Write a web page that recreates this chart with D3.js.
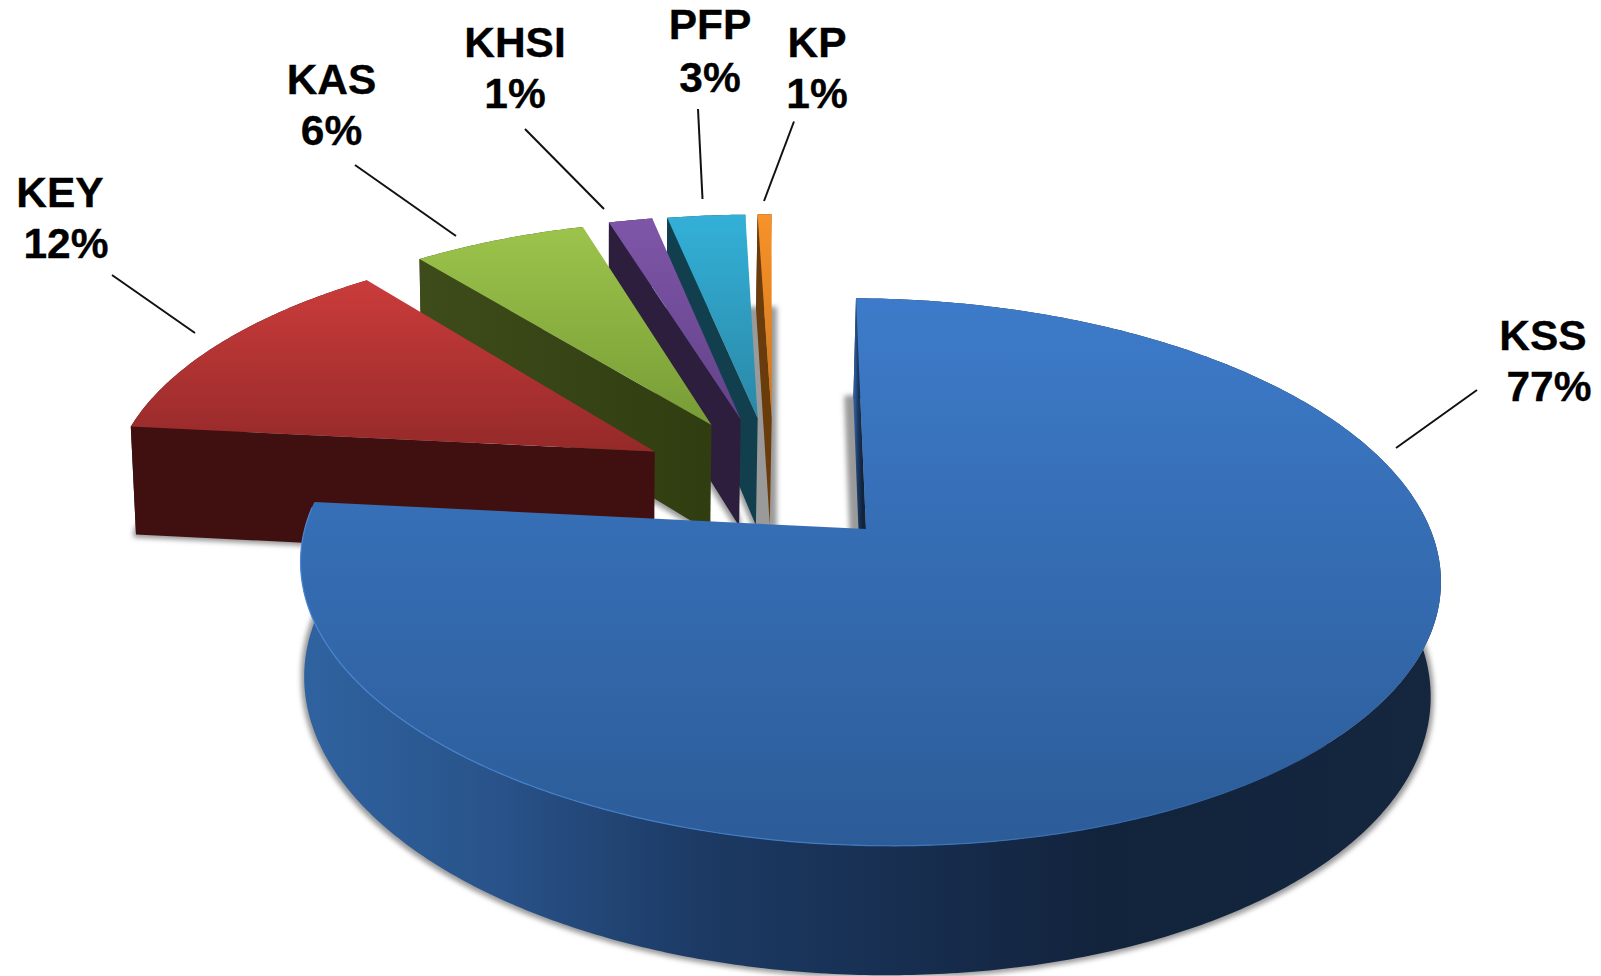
<!DOCTYPE html>
<html><head><meta charset="utf-8">
<script src="https://cdn.jsdelivr.net/npm/d3@7/dist/d3.min.js"></script>
<style>html,body{margin:0;padding:0;background:#fff;overflow:hidden}svg{display:block}
text{font-family:"Liberation Sans",Arial,sans-serif;font-weight:700;font-size:42.5px;fill:#000;stroke:#000;stroke-width:.3px;text-anchor:middle}</style>
</head><body><svg id="c" width="1601" height="976"></svg>
<script>
// ---- data ----
const categories = ["KSS","KEY","KAS","KHSI","PFP","KP"];
const sliceValues = [76.48,12.7,6.07,1.53,2.72,0.485];   // wedge sizes as drawn
const percentLabels = [77,12,6,1,3,1];                   // printed percentages
// ---- style ----
const topColors  = [["#3d7bca","#2c5c98"],["#ca3c3b","#952929"],["#9cc44b","#789c36"],["#7e56a8","#64428a"],["#33b0d8","#2a88a6"],["#f8922a","#d0761a"]];
const kssWallStops = [[0,"#2f63a0"],[.17,"#29538a"],[.35,"#1c3a64"],[.53,"#172e50"],[.7,"#12233c"],[1,"#14273f"]];
const wallColors = [null,["#401010","#401010"],["#3e4b1a","#303d10"],["#2d1e3e","#2d1e3e"],["#123f4d","#123f4d"],["#6a3c0c","#6a3c0c"]];
// ---- explosion of each wedge on the pie plane (in radii) ----
const explodeU = [0,-0.3867,-0.2837,-0.2288,-0.1966,-0.170];
const explodeV = [0,-0.2985,-0.4107,-0.4362,-0.4405,-0.443];
const rimShiftU = [0.005,0.0057,0,0,0,0];
// ---- label placement ----
const labelX  = [[1543,1549],[60,66],[331.5,331.5],[515,515],[710,710],[817,817]];
const labelY  = [[350,401],[207,258],[94,145],[57,108],[39,92],[57,108]];
const leaders = [[1477,390,1396,448],[112,275,195,333],[355,165,456,236],[525,129,604,209],[698,109,702.5,199],[794,121.5,764,201]];
// ---- camera ----
const cam = {cx:866,cy:529,a:563,b:11.6,c:4,d:267,k:0.157,m:0.012,px:-3.2,T:114.5,start:-0.005,end:2*Math.PI-0.006};
function project(u,v,z){
  const w = 1 - cam.k*v + cam.m*z;
  return [cam.cx + (cam.a*u + cam.b*v + cam.px*z)/w, cam.cy + (cam.c*u + cam.d*v + cam.T*z)/w];
}
const svg = d3.select("#c"), defs = svg.append("defs");
const line = d3.line();
const pie = d3.pie().sort(null).startAngle(cam.start).endAngle(cam.end)(sliceValues);

function rim(i,z,a0,a1){
  const n = Math.max(2,Math.ceil((a1-a0)/0.01));
  return d3.range(n+1).map(j=>{
    const t = a0+(a1-a0)*j/n;
    return project(explodeU[i]+rimShiftU[i]+Math.sin(t), explodeV[i]-Math.cos(t), z);
  });
}
const apex = (i,z)=>project(explodeU[i],explodeV[i],z);
function grad(id,stops,horizontal){
  const g = defs.append("linearGradient").attr("id",id).attr("x1",0).attr("y1",0)
    .attr("x2",horizontal?1:0).attr("y2",horizontal?0:1);
  stops.forEach(s=>g.append("stop").attr("offset",s[0]).attr("stop-color",s[1]));
}
const f = defs.append("filter").attr("id","sh").attr("filterUnits","userSpaceOnUse")
  .attr("x",0).attr("y",0).attr("width",1601).attr("height",976);
f.append("feMorphology").attr("operator","dilate").attr("radius",3);
f.append("feGaussianBlur").attr("stdDeviation",2.5);

categories.forEach((c,i)=>{
  grad("t"+i,[[0,topColors[i][0]],[1,topColors[i][1]]],false);
  grad("w"+i,i===0?kssWallStops:[[0,wallColors[i][0]],[1,wallColors[i][1]]],true);
});
grad("hl",[[0,"#4a86d4"],[.6,"#3f78c0"],[1,"#2c5c98"]],true);

// shadows first
const shadows = svg.append("g").attr("filter","url(#sh)").attr("fill","#9a9a9a");
pie.forEach((p,i)=>{
  shadows.append("path").attr("d",line([apex(i,1),...rim(i,1,p.startAngle,p.endAngle)])+"Z");
});
// the gap behind the last wedge is in its shadow too, and the notch wall of the first wedge throws a band
{
  const n = pie.length-1;
  const gap = line([
    apex(n-1,1),apex(n,1),
    ...rim(n,1,pie[n].endAngle,pie[n].endAngle),
    ...rim(n-1,1,pie[n-1].endAngle,pie[n-1].endAngle)
  ])+"Z";
  shadows.append("path").attr("d",gap);
  shadows.append("path").attr("d",gap).attr("transform","translate(4,0)");
  shadows.append("path").attr("transform","translate(-6,0)")
    .attr("d",line([apex(0,1),...rim(0,1,pie[0].startAngle,pie[0].startAngle+0.03)])+"Z");
}
// wedges from the back to the front
d3.range(categories.length-1,-1,-1).forEach(i=>{
  const p = pie[i], g = svg.append("g");
  const top = rim(i,0,p.startAngle,p.endAngle), bot = rim(i,1,p.startAngle,p.endAngle);
  g.append("path").attr("fill",`url(#w${i})`)
    .attr("d",line([...top,...bot.slice().reverse()])+"Z");
  g.append("path").attr("fill",`url(#w${i})`)
    .attr("d",line([apex(i,0),top[0],bot[0],apex(i,1)])+"Z");
  g.append("path").attr("fill",`url(#t${i})`)
    .attr("d",line([apex(i,0),...top])+"Z");
  if(i===0) g.append("path").attr("fill","none").attr("stroke","url(#hl)").attr("stroke-width",1.2)
    .attr("d",line(rim(0,0,Math.PI*0.75,p.endAngle-0.02)));
});
// labels and leaders
categories.forEach((c,i)=>{
  svg.append("line").attr("x1",leaders[i][0]).attr("y1",leaders[i][1]).attr("x2",leaders[i][2]).attr("y2",leaders[i][3])
    .attr("stroke","#111").attr("stroke-width",2);
  svg.append("text").attr("x",labelX[i][0]).attr("y",labelY[i][0]).text(c);
  svg.append("text").attr("x",labelX[i][1]).attr("y",labelY[i][1]).text(percentLabels[i]+"%");
});
</script></body></html>
